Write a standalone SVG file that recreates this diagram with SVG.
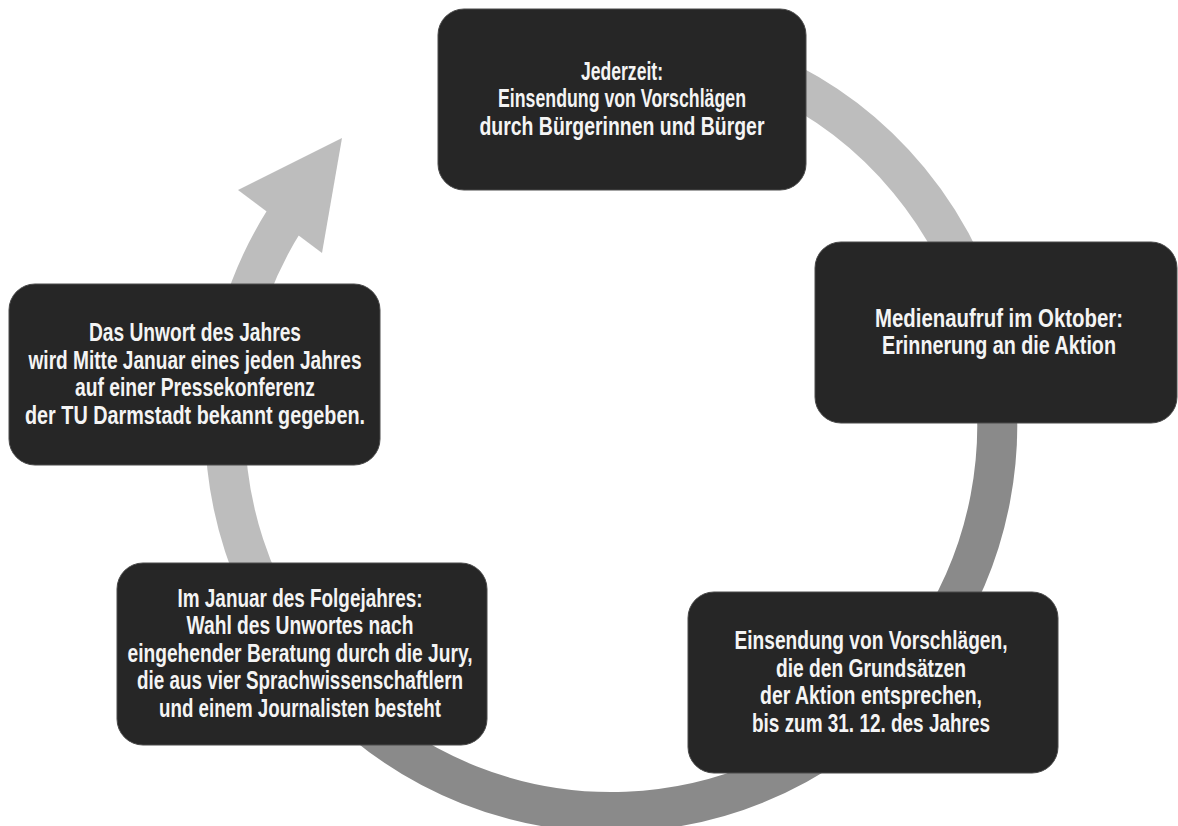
<svg xmlns="http://www.w3.org/2000/svg" width="1178" height="826" viewBox="0 0 1178 826">
  <defs>
    <linearGradient id="ringGrad" gradientUnits="userSpaceOnUse" x1="607" y1="472" x2="623" y2="508">
      <stop offset="0" stop-color="#bdbdbd"/>
      <stop offset="1" stop-color="#8a8a8a"/>
    </linearGradient>
    <style>
      .box { fill: #262626; stroke: #4a4a4a; stroke-width: 1; }
      .lbl { font-family: "Liberation Sans", Arial, sans-serif; font-weight: bold; font-size: 25px; fill: #f4f4f4; text-anchor: middle; }
      .ring { fill: none; stroke: url(#ringGrad); stroke-width: 40; }
    </style>
  </defs>
  <rect width="1178" height="826" fill="#ffffff"/>

  <g id="connectors">
    <path class="ring" d="M 612 40 A 386 386 0 1 1 285.2 219.3"/>
    <polygon points="238,190 342,138 322,253" fill="url(#ringGrad)"/>
  </g>

  <g id="node-jederzeit">
    <rect class="box" x="438" y="9" width="368" height="181" rx="26"/>
    <text class="lbl"><tspan x="622" y="80" textLength="82" lengthAdjust="spacingAndGlyphs">Jederzeit:</tspan><tspan x="622" y="107" textLength="248" lengthAdjust="spacingAndGlyphs">Einsendung von Vorschlägen</tspan><tspan x="622" y="135" textLength="285" lengthAdjust="spacingAndGlyphs">durch Bürgerinnen und Bürger</tspan></text>
  </g>

  <g id="node-oktober">
    <rect class="box" x="815" y="242" width="362" height="181" rx="26"/>
    <text class="lbl"><tspan x="999" y="327" textLength="248" lengthAdjust="spacingAndGlyphs">Medienaufruf im Oktober:</tspan><tspan x="999" y="354" textLength="234" lengthAdjust="spacingAndGlyphs">Erinnerung an die Aktion</tspan></text>
  </g>

  <g id="node-einsendung">
    <rect class="box" x="688" y="592" width="370" height="181" rx="26"/>
    <text class="lbl"><tspan x="871" y="649" textLength="273" lengthAdjust="spacingAndGlyphs">Einsendung von Vorschlägen,</tspan><tspan x="871" y="677" textLength="190" lengthAdjust="spacingAndGlyphs">die den Grundsätzen</tspan><tspan x="871" y="704" textLength="222" lengthAdjust="spacingAndGlyphs">der Aktion entsprechen,</tspan><tspan x="871" y="732" textLength="238" lengthAdjust="spacingAndGlyphs">bis zum 31. 12. des Jahres</tspan></text>
  </g>

  <g id="node-januar">
    <rect class="box" x="117" y="563" width="370" height="182" rx="26"/>
    <text class="lbl"><tspan x="300" y="607" textLength="245" lengthAdjust="spacingAndGlyphs">Im Januar des Folgejahres:</tspan><tspan x="300" y="634" textLength="227" lengthAdjust="spacingAndGlyphs">Wahl des Unwortes nach</tspan><tspan x="300" y="662" textLength="345" lengthAdjust="spacingAndGlyphs">eingehender Beratung durch die Jury,</tspan><tspan x="300" y="689" textLength="326" lengthAdjust="spacingAndGlyphs">die aus vier Sprachwissenschaftlern</tspan><tspan x="300" y="717" textLength="282" lengthAdjust="spacingAndGlyphs">und einem Journalisten besteht</tspan></text>
  </g>

  <g id="node-unwort">
    <rect class="box" x="9" y="284" width="371" height="181" rx="26"/>
    <text class="lbl"><tspan x="195" y="341" textLength="212" lengthAdjust="spacingAndGlyphs">Das Unwort des Jahres</tspan><tspan x="195" y="369" textLength="333" lengthAdjust="spacingAndGlyphs">wird Mitte Januar eines jeden Jahres</tspan><tspan x="195" y="396" textLength="240" lengthAdjust="spacingAndGlyphs">auf einer Pressekonferenz</tspan><tspan x="195" y="424" textLength="340" lengthAdjust="spacingAndGlyphs">der TU Darmstadt bekannt gegeben.</tspan></text>
  </g>
</svg>
